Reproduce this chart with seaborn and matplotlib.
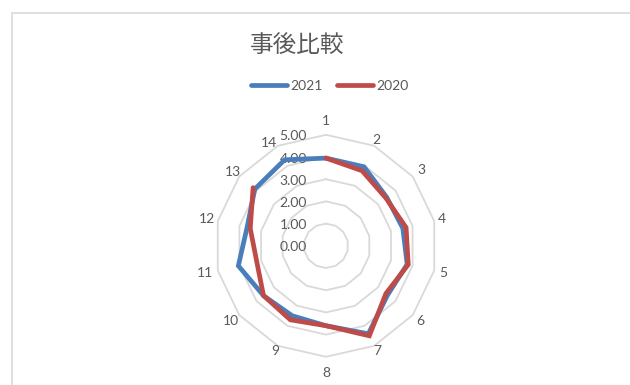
import numpy as np
import pandas as pd
import matplotlib
matplotlib.use("Agg")
import matplotlib.pyplot as plt
import matplotlib.transforms as mtransforms
from matplotlib.lines import Line2D
import seaborn as sns

# ---- data ----
categories = ["1", "2", "3", "4", "5", "6", "7", "8", "9", "10", "11", "12", "13", "14"]
values_2021 = [3.95, 3.95, 3.50, 3.55, 3.75, 3.55, 4.40, 3.60, 3.50, 3.60, 4.05, 3.65, 4.10, 4.30]
values_2020 = [3.95, 3.75, 3.45, 3.70, 3.80, 3.45, 4.50, 3.60, 3.70, 3.60, 3.20, 3.50, 4.20, np.nan]
series_names = ["2021", "2020"]
radial_ticks = [0, 1, 2, 3, 4, 5]
title = "事後比較"

sns.set_theme(style="white")
plt.rcParams["font.family"] = ["Lato", "Noto Sans CJK JP", "DejaVu Sans"]

W, H = 630, 385
fig = plt.figure(figsize=(W / 100, H / 100), dpi=100)

# chart-area frame
frame = plt.Rectangle((11.5 / W, -0.1), 1.0, (H - 13.5) / H + 0.1, transform=fig.transFigure,
                      fill=False, edgecolor="#D9D9D9", linewidth=1.2, clip_on=False)
fig.patches.append(frame)

cx, cy, R = 326, 245.8, 111
ax = fig.add_axes([(cx - R) / W, (H - cy - R) / H, 2 * R / W, 2 * R / H], projection="polar")
ax.set_theta_zero_location("N")
ax.set_theta_direction(-1)
ax.set_ylim(0, 5)
ax.grid(False)
ax.spines["polar"].set_visible(False)
ax.set_xticks([])
ax.set_yticks([])
ax.patch.set_alpha(0)

n = len(categories)
angles = np.arange(n) * 2 * np.pi / n

# polygonal grid rings
ring_theta = np.append(angles, angles[0])
for k in radial_ticks[1:]:
    ax.plot(ring_theta, np.full(len(ring_theta), k), color="#D9D9D9", lw=1.3,
            clip_on=False, zorder=1)

colors = {"2021": "#4A7EBB", "2020": "#BE4B48"}

def closed_segments(vals):
    """Return list of contiguous runs (closed around) without NaN."""
    v = np.array(vals, dtype=float)
    if not np.isnan(v).any():
        return [list(range(n)) + [0]]
    start = int(np.where(np.isnan(v))[0][0]) + 1
    order = [(start + i) % n for i in range(n)]
    segs, cur = [], []
    for i in order:
        if np.isnan(v[i]):
            if len(cur) > 1:
                segs.append(cur)
            cur = []
        else:
            cur.append(i)
    if len(cur) > 1:
        segs.append(cur)
    return segs

for name, vals in zip(series_names, [values_2021, values_2020]):
    for seg in closed_segments(vals):
        df = pd.DataFrame({"theta": [angles[i] for i in seg],
                           "r": [vals[i] for i in seg]})
        sns.lineplot(data=df, x="theta", y="r", sort=False, estimator=None, ax=ax,
                     color=colors[name], lw=3.4, zorder=3, clip_on=False, legend=False,
                     solid_joinstyle="miter")
ax.set_xlabel("")
ax.set_ylabel("")

# category labels (distance of label centre from chart centre, in pixels, plus small nudges)
label_dist_px = [125, 117, 122, 119, 120, 120, 117, 127, 117, 121, 124, 122, 119, 118]
label_nudge_px = [(0, 0)] * 13 + [(-5.5, -3.5)]
px_per_unit = R / 5
for a, lab, d, (nx, ny) in zip(angles, categories, label_dist_px, label_nudge_px):
    tr = mtransforms.offset_copy(ax.transData, fig=fig, x=nx * 0.72, y=ny * 0.72, units="points")
    ax.text(a, d / px_per_unit, lab, transform=tr, ha="center", va="center", fontsize=10,
            color="#595959", clip_on=False)

# radial value labels
off = mtransforms.offset_copy(ax.transData, fig=fig, x=-19 * 0.72, y=-1.5 * 0.72, units="points")
for k in radial_ticks:
    ax.text(0, k, f"{k:.2f}", transform=off, ha="right", va="center", fontsize=10,
            color="#595959", zorder=2)

# title
fig.text(297.5 / W, 1 - 45 / H, title, ha="center", va="center", fontsize=17,
         color="#595959", family=["Noto Sans CJK JP", "DejaVu Sans"])

# legend
handles = [Line2D([], [], color=colors[s], lw=3.4) for s in series_names]
leg = fig.legend(handles, series_names, loc="center", bbox_to_anchor=(330 / W, 1 - 86 / H),
                 ncol=2, frameon=False, fontsize=10, handlelength=2.6, handletextpad=0.25,
                 columnspacing=1.0, labelcolor="#595959")

fig.savefig("out.png", dpi=100)
